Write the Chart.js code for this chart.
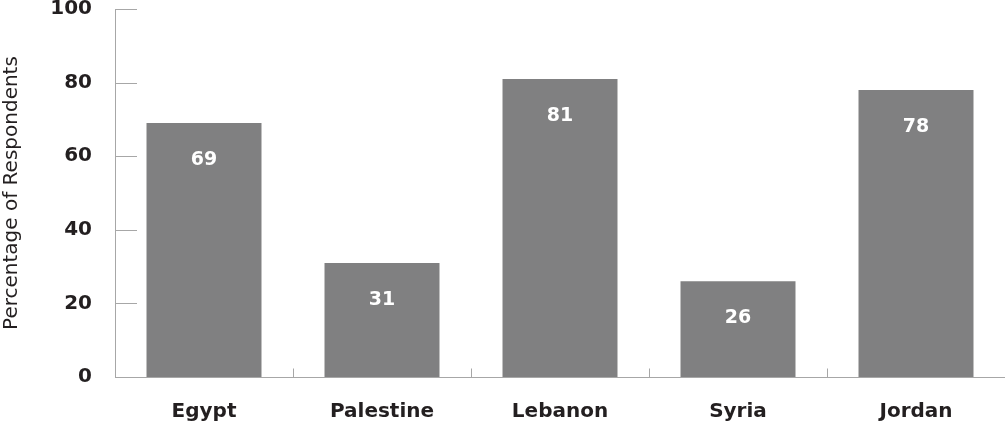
<!DOCTYPE html>
<html><head><meta charset="utf-8">
<script src="https://cdn.jsdelivr.net/npm/chart.js@4"></script>
<style>html,body{margin:0;padding:0;background:#fff}#wrap{width:1005px;height:427px;position:relative}</style>
</head><body><div id="wrap"><canvas id="c"></canvas></div>
<script>
const categories = ["Egypt", "Palestine", "Lebanon", "Syria", "Jordan"];
const values = [69, 31, 81, 26, 78];
const yTicks = [0, 20, 40, 60, 80, 100];

const FONT = "'DejaVu Sans', sans-serif";
const TXT = "#231f20";
const AX = "#a7a7a7";

const decor = {
  id: 'decor',
  afterDatasetsDraw(chart) {
    const ctx = chart.ctx, x = chart.scales.x, y = chart.scales.y, a = chart.chartArea;
    ctx.save();
    ctx.strokeStyle = AX; ctx.lineWidth = 1;
    const px0 = Math.round(a.left) + 0.5;
    ctx.beginPath(); ctx.moveTo(px0, y.getPixelForValue(100)); ctx.lineTo(px0, y.getPixelForValue(0)); ctx.stroke();
    yTicks.forEach(v => { const py = Math.round(y.getPixelForValue(v)) + 0.5; ctx.beginPath(); ctx.moveTo(a.left, py); ctx.lineTo(a.left + 22, py); ctx.stroke(); });
    const py0 = Math.round(y.getPixelForValue(0)) + 0.5;
    ctx.beginPath(); ctx.moveTo(a.left, py0); ctx.lineTo(a.right, py0); ctx.stroke();
    for (let i = 1; i < categories.length; i++) {
      const px = Math.round((x.getPixelForValue(i - 1) + x.getPixelForValue(i)) / 2) + 0.5;
      ctx.beginPath(); ctx.moveTo(px, py0); ctx.lineTo(px, py0 - 9); ctx.stroke();
    }
    ctx.fillStyle = '#fff'; ctx.font = "bold 19px " + FONT; ctx.textAlign = 'center'; ctx.textBaseline = 'middle';
    const meta = chart.getDatasetMeta(0);
    meta.data.forEach((bar, i) => { ctx.fillText(String(values[i]), bar.x, bar.y + 37); });
    ctx.restore();
  }
};

new Chart(document.getElementById('c'), {
  type: 'bar',
  data: { labels: categories, datasets: [{ data: values, backgroundColor: '#808081', categoryPercentage: 1, barPercentage: 0.646 }] },
  options: {
    responsive: true, maintainAspectRatio: false, animation: false,
    layout: { padding: { top: 9, right: 0, bottom: 0, left: 0 } },
    plugins: { legend: { display: false }, tooltip: { enabled: false } },
    scales: {
      x: {
        afterFit(s) { s.height = 50; s.paddingLeft = 0; s.paddingRight = 0; },
        grid: { display: false }, border: { display: false },
        ticks: { color: TXT, font: { family: FONT, size: 20, weight: 'bold' }, padding: 15 }
      },
      y: {
        min: 0, max: 100,
        afterFit(s) { s.width = 115; s.paddingTop = 0; s.paddingBottom = 0; },
        afterBuildTicks(s) { s.ticks = yTicks.map(v => ({ value: v })); },
        grid: { display: false }, border: { display: false },
        ticks: { color: TXT, font: { family: FONT, size: 20, weight: 'bold' }, padding: 15 },
        title: { display: true, text: 'Percentage of Respondents', color: TXT, font: { family: FONT, size: 20 }, padding: { top: 0, bottom: 0 } }
      }
    }
  },
  plugins: [decor]
});
</script></body></html>
